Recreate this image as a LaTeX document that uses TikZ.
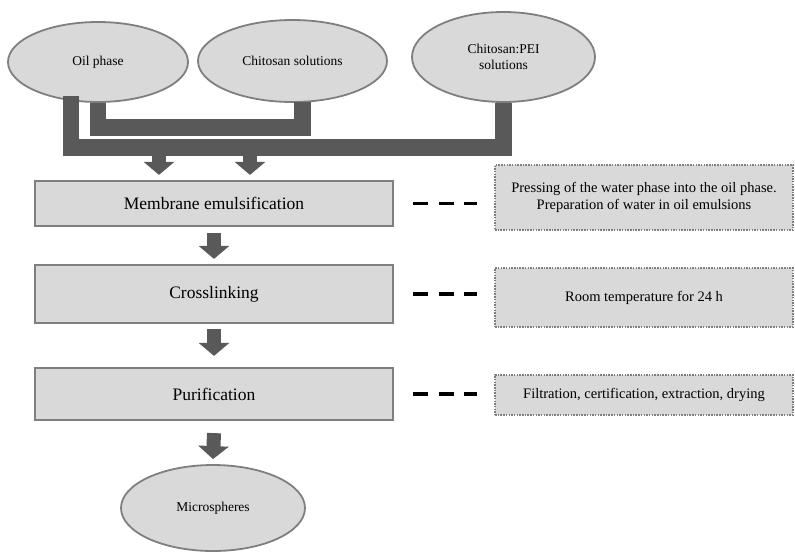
\documentclass[tikz,border=0pt]{standalone}
\usepackage{fontspec}
\setmainfont{Liberation Serif}
\usepackage{tikz}
\usetikzlibrary{arrows.meta,positioning,calc,shapes.geometric}
\definecolor{BoxFill}{RGB}{217,217,217}
\definecolor{BoxLine}{RGB}{127,127,127}
\definecolor{PipeGray}{RGB}{89,89,89}

\begin{document}
\begin{tikzpicture}[x=1pt, y=-1pt,
        srcnode/.style={ellipse, draw=BoxLine, fill=BoxFill, line width=1.8pt,
                        inner sep=0pt, align=center, font=\fontsize{13.5}{16}\selectfont},
        stepbox/.style={rectangle, draw=BoxLine, fill=BoxFill, line width=2.2pt,
                        minimum width=358pt, font=\fontsize{17.5}{20}\selectfont},
        notebox/.style={rectangle, draw=BoxLine, fill=BoxFill, line width=1.5pt,
                        dash pattern=on 1.5pt off 1.2pt, minimum width=298pt,
                        align=center, font=\fontsize{14.5}{16.5}\selectfont},
        pipe/.style={draw=PipeGray, line width=16.5pt},
        bigarrow/.style={-{Triangle[length=13pt,width=30pt]}, line width=14pt, PipeGray},
        linkdash/.style={line width=3.5pt, dash pattern=on 15pt off 10.5pt}
      ]
        \useasboundingbox (0,0) rectangle (795,552);

        % starting materials
        \node[srcnode, minimum width=180pt, minimum height=80pt] (oil)  at (98,62)    {Oil phase};
        \node[srcnode, minimum width=189pt, minimum height=82pt] (chit) at (292.5,61) {Chitosan solutions};
        \node[srcnode, minimum width=183pt, minimum height=90pt] (pei)  at (503.5,57) {Chitosan:PEI\\solutions};

        % process steps
        \node[stepbox, minimum height=45pt] (emul)  at (214,203.5) {Membrane emulsification};
        \node[stepbox, minimum height=58pt] (cross) at (214,294)   {Crosslinking};
        \node[stepbox, minimum height=52pt] (purif) at (214,394)   {Purification};
        \node[srcnode, minimum width=184pt, minimum height=86pt] (micro) at (213,508) {Microspheres};

        % notes
        \node[notebox, minimum height=65pt] (noteA) at (644,197.5) {Pressing of the water phase into the oil phase.\\Preparation of water in oil emulsions};
        \node[notebox, minimum height=59pt] (noteB) at (644,297.5) {Room temperature for 24 h};
        \node[notebox, minimum height=40pt] (noteC) at (644,395)   {Filtration, certification, extraction, drying};

        % pipes from the sources
        \coordinate (oilpipe)  at (71,96);
        \coordinate (barR)     at (503.5,147.5);
        \coordinate (chitbar)  at (302.5,127.5);
        \coordinate (chitpipe) at (302.5,102);
        \coordinate (feedA)    at (159,147.5);
        \coordinate (feedB)    at (250,147.5);

        \draw[pipe] (oilpipe) |- (barR) -- (pei.south);
        \draw[pipe] (oil.south) |- (chitbar) -- (chitpipe);

        \draw[bigarrow] (feedA) -- ([yshift=5pt]feedA |- emul.north);
        \draw[bigarrow] (feedB) -- ([yshift=5pt]feedB |- emul.north);
        \draw[bigarrow] ([yshift=-6pt]emul.south)  -- ([yshift=5pt]cross.north);
        \draw[bigarrow] ([yshift=-5pt]cross.south) -- ([yshift=11pt]purif.north);
        \draw[bigarrow] ([yshift=-12pt]purif.south) -- ([yshift=5pt]micro.north);

        \draw[linkdash] ([xshift=19pt]emul.east)  -- ([xshift=-17pt]emul.east -| noteA.west);
        \draw[linkdash] ([xshift=19pt]cross.east) -- ([xshift=-17pt]cross.east -| noteB.west);
        \draw[linkdash] ([xshift=19pt]purif.east) -- ([xshift=-17pt]purif.east -| noteC.west);
      \end{tikzpicture}
\end{document}
